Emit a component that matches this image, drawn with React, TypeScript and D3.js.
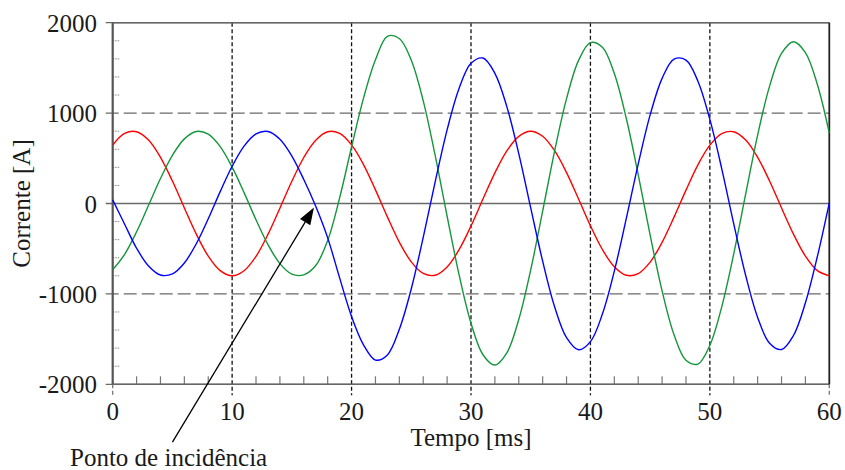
import React from 'react';
import * as d3 from 'd3';

// ---- data ----
const timeMs = [0,1,2,3,4,5,6,7,8,9,10,11,12,13,14,15,16,17,18,19,20,21,22,23,24,25,26,27,28,29,30,31,32,33,34,35,36,37,38,39,40,41,42,43,44,45,46,47,48,49,50,51,52,53,54,55,56,57,58,59,60];
const redCurrent = [647,775,794,702,511,249,-49,-339,-582,-743,-800,-744,-584,-342,-52,246,509,700,794,775,648,430,151,-148,-428,-646,-774,-794,-702,-511,-249,49,339,582,743,800,744,584,342,52,-246,-509,-700,-794,-775,-648,-430,-151,148,428,646,774,794,702,511,249,-49,-339,-582,-743,-800];
const blueCurrent = [40,-229,-495,-691,-791,-779,-658,-445,-169,131,412,635,770,796,710,525,266,-31,-380,-823,-1250,-1563,-1732,-1675,-1391,-943,-375,240,815,1272,1551,1609,1440,1072,551,-49,-638,-1142,-1484,-1618,-1528,-1223,-748,-167,436,980,1384,1597,1586,1353,930,381,-225,-797,-1260,-1545,-1615,-1460,-1098,-586,8];
const greenCurrent = [-732,-562,-313,-20,276,533,715,797,767,629,402,120,-180,-454,-665,-782,-789,-686,-410,62,625,1165,1590,1850,1825,1585,1136,532,-141,-787,-1324,-1673,-1787,-1652,-1283,-734,-84,580,1160,1581,1779,1728,1437,943,320,-351,-967,-1453,-1735,-1776,-1568,-1140,-557,106,757,1298,1661,1790,1670,1316,779];

const xTicks = [0,10,20,30,40,50,60];
const xMinorTicks = [2,4,6,8,12,14,16,18,22,24,26,28,32,34,36,38,42,44,46,48,52,54,56,58];
const yTicks = [-2000,-1000,0,1000,2000];
const yMinorTicks = [-1800,-1600,-1400,-1200,-800,-600,-400,-200,200,400,600,800,1200,1400,1600,1800];

const xLabel = 'Tempo [ms]';
const yLabel = 'Corrente [A]';
const annotationText = 'Ponto de incidência';
const annotationTail = [5.0, -2640];
const annotationHead = [16.85, -45];

const W = 845, H = 470;
const FONT = '"Liberation Serif", "Times New Roman", serif';

export default function App() {
  const x = d3.scaleLinear().domain([0, 60]).range([112.7, 829.3]);
  const y = d3.scaleLinear().domain([-2000, 2000]).range([384.3, 22.7]);
  const [x0, x1] = x.range();
  const [yb, yt] = y.range();

  const mk = (vals: number[]) =>
    d3.line<number>()
      .x((_, i) => x(timeMs[i]))
      .y((v) => y(v))
      .curve(d3.curveCatmullRom.alpha(0.5))(vals) || '';

  const series = [
    { vals: redCurrent, color: '#ff0000' },
    { vals: greenCurrent, color: '#16963c' },
    { vals: blueCurrent, color: '#0000ff' },
  ];

  // arrow geometry
  const ax0 = x(annotationTail[0]), ay0 = y(annotationTail[1]);
  const ax1 = x(annotationHead[0]), ay1 = y(annotationHead[1]);
  const ang = Math.atan2(ay1 - ay0, ax1 - ax0);
  const headLen = 17, headW = 6;
  const bx = ax1 - headLen * Math.cos(ang), by = ay1 - headLen * Math.sin(ang);
  const px = -Math.sin(ang), py = Math.cos(ang);
  const head = `M${ax1},${ay1} L${bx + px * headW},${by + py * headW} L${bx - px * headW},${by - py * headW} Z`;

  return (
    <svg width={W} height={H} style={{ position: 'absolute', left: 0, top: 0, background: '#fff' }}
      fontFamily={FONT}>
      <rect x={0} y={0} width={W} height={H} fill="#fff" />
      {/* horizontal grid */}
      {yTicks.map((t) => (
        <line key={'hg' + t} x1={x0 - 7} x2={x1} y1={y(t)} y2={y(t)}
          stroke="#6a6a6a" strokeWidth={1.3}
          strokeDasharray={Math.abs(t) === 1000 ? '13,5' : undefined} />
      ))}
      {/* vertical grid */}
      {xTicks.map((t) => (
        <line key={'vg' + t} x1={x(t)} x2={x(t)}
          y1={t === 0 || t === 60 ? yb : yt} y2={yb + 11}
          stroke={t === 0 || t === 60 ? '#777' : '#111'} strokeWidth={1.3}
          strokeDasharray="4,2.5" />
      ))}
      {/* minor ticks */}
      {xMinorTicks.map((t) => (
        <line key={'xm' + t} x1={x(t)} x2={x(t)} y1={yb - 8} y2={yb}
          stroke="#777" strokeWidth={1.2} />
      ))}
      {yMinorTicks.map((t) => (
        <line key={'ym' + t} x1={x0} x2={x0 + 7} y1={y(t)} y2={y(t)}
          stroke="#888" strokeWidth={1} strokeDasharray="1.5,1" />
      ))}
      {/* frame */}
      <line x1={x0} x2={x1} y1={yt} y2={yt} stroke="#666" strokeWidth={1.5} />
      <line x1={x0} x2={x1} y1={yb} y2={yb} stroke="#666" strokeWidth={1.5} />
      <line x1={x1} x2={x1} y1={yt} y2={yb} stroke="#222" strokeWidth={1.8} />
      <line x1={x0} x2={x0} y1={yt} y2={yb} stroke="#555" strokeWidth={2.2} />
      {/* series */}
      {series.map((s, i) => (
        <path key={'s' + i} d={mk(s.vals)} fill="none" stroke={s.color} strokeWidth={1.4} />
      ))}
      {/* tick labels */}
      {yTicks.map((t) => (
        <text key={'yl' + t} x={97} y={y(t) + 9} textAnchor="end" fontSize={25} fill="#1a1a1a">{t}</text>
      ))}
      {xTicks.map((t) => (
        <text key={'xl' + t} x={x(t)} y={420} textAnchor="middle" fontSize={25} fill="#1a1a1a">{t}</text>
      ))}
      {/* axis titles */}
      <text x={(x0 + x1) / 2} y={446} textAnchor="middle" fontSize={25} fill="#1a1a1a">{xLabel}</text>
      <text transform={`translate(30, ${y(0)}) rotate(-90)`} textAnchor="middle" fontSize={25} fill="#1a1a1a">{yLabel}</text>
      {/* annotation */}
      <line x1={ax0} y1={ay0} x2={bx} y2={by} stroke="#000" strokeWidth={1.3} />
      <path d={head} fill="#000" />
      <text x={70} y={466} fontSize={25} fill="#1a1a1a">{annotationText}</text>
    </svg>
  );
}
